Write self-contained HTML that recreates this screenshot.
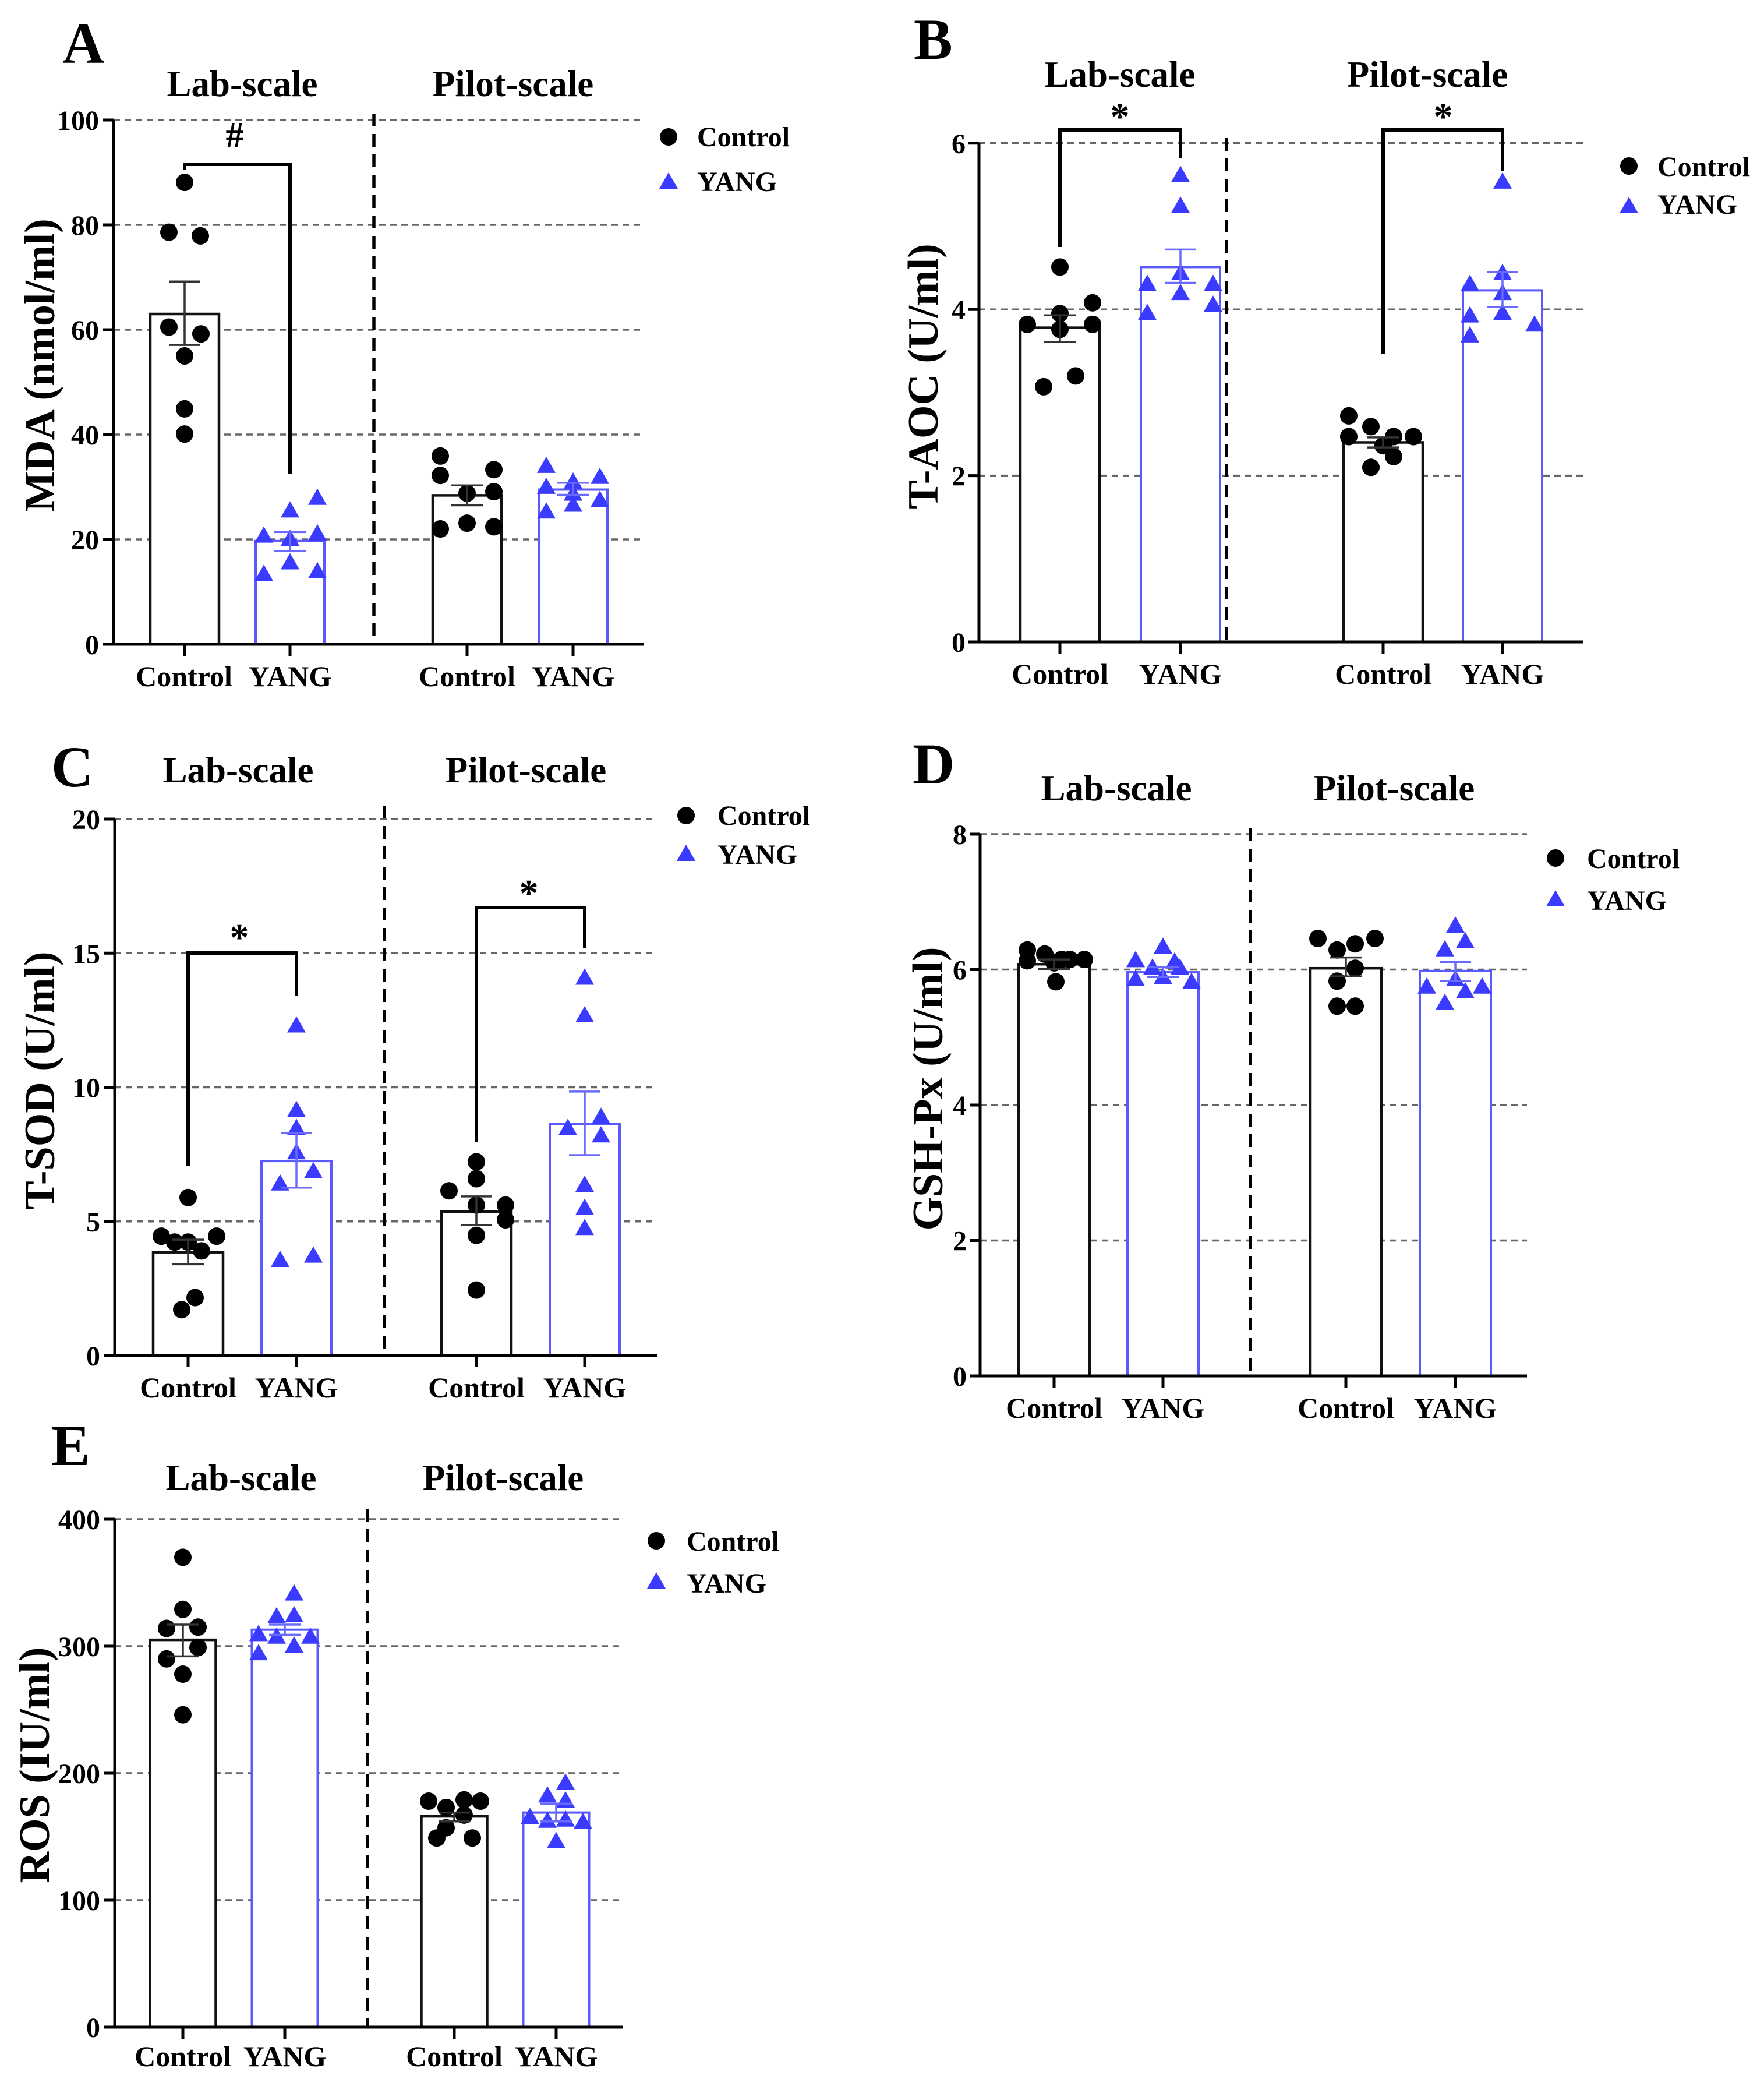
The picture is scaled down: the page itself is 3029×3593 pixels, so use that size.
<!DOCTYPE html>
<html><head><meta charset="utf-8"><style>
html,body{margin:0;padding:0;background:#fff;}
svg{display:block;}
text{font-family:"Liberation Serif","Times New Roman",serif;font-weight:bold;fill:#000;}
.g{stroke:#666;stroke-width:3.5;stroke-dasharray:11 8;fill:none}
.ax{stroke:#000;stroke-width:5;fill:none}
.bk{fill:#fff;stroke:#111;stroke-width:4.5}
.bb{fill:#fff;stroke:#5a5aff;stroke-width:4}
.eb{stroke:#333;stroke-width:3.5;fill:none}
.ebb{stroke:#6a6aff;stroke-width:3.5;fill:none}
.dv{stroke:#000;stroke-width:5.5;stroke-dasharray:22 13;fill:none}
.br{stroke:#000;stroke-width:6;fill:none}
.tl{font-size:48px;text-anchor:end}
.xl{font-size:50px;text-anchor:middle}
.st{font-size:63px;text-anchor:middle}
.yl{font-size:74px;text-anchor:middle}
.pl{font-size:100px}
.lg{font-size:48px}
.sig{font-size:66px;text-anchor:middle}
</style></head><body>
<svg width="3029" height="3593" viewBox="0 0 3029 3593" xmlns="http://www.w3.org/2000/svg">
<defs>
<polygon id="t" points="0,-17 -16,11 16,11" fill="#3b3bff"/>
</defs>
<rect width="3029" height="3593" fill="#fff"/>

<!-- ================= PANEL A ================= -->
<g>
<path class="g" d="M195,926H1106M195,746H1106M195,566H1106M195,386H1106M195,206H1106"/>
<rect class="bk" x="258" y="539" width="118" height="567"/>
<rect class="bb" x="439" y="928.7" width="118" height="177.3"/>
<rect class="bk" x="743" y="850.4" width="118" height="255.6"/>
<rect class="bb" x="925" y="840.5" width="118" height="265.5"/>
<path class="dv" d="M642,195V1106"/>
<path class="br" d="M317,291V282H498V814"/>
<text class="sig" x="403" y="253" style="font-size:62px">#</text>
<g fill="#000">
<circle cx="317" cy="313.1" r="15"/><circle cx="290" cy="398.6" r="15"/><circle cx="344" cy="404.9" r="15"/><circle cx="290" cy="561.5" r="15"/><circle cx="345" cy="573.2" r="15"/><circle cx="317" cy="611" r="15"/><circle cx="317" cy="701.9" r="15"/><circle cx="317" cy="745.1" r="15"/>
<circle cx="756" cy="782.9" r="15"/><circle cx="756" cy="816.2" r="15"/><circle cx="848" cy="806.3" r="15"/><circle cx="802" cy="846.8" r="15"/><circle cx="848" cy="844.1" r="15"/><circle cx="756" cy="908" r="15"/><circle cx="802" cy="898.1" r="15"/><circle cx="848" cy="904.4" r="15"/>
</g>
<use href="#t" x="545" y="855.8"/><use href="#t" x="498" y="877.4"/><use href="#t" x="453" y="920.6"/><use href="#t" x="545" y="917"/><use href="#t" x="498" y="966.5"/><use href="#t" x="453" y="986.3"/><use href="#t" x="545" y="981.8"/><use href="#t" x="498" y="926"/>
<use href="#t" x="938" y="800.9"/><use href="#t" x="938" y="836.9"/><use href="#t" x="984" y="827.9"/><use href="#t" x="1030" y="819.8"/><use href="#t" x="984" y="848.6"/><use href="#t" x="938" y="879.2"/><use href="#t" x="984" y="867.5"/><use href="#t" x="1030" y="859.4"/>
<path class="eb" d="M317,483.2V592.1M290,483.2H344M290,592.1H344"/>
<path class="ebb" d="M498,913.4V945.8M471,913.4H525M471,945.8H525"/>
<path class="eb" d="M802,833.3V867.5M775,833.3H829M775,867.5H829"/>
<path class="ebb" d="M984,828.8V849.5M957,828.8H1011M957,849.5H1011"/>
<path class="ax" d="M195,206V1106H1106M177,1106H195M177,926H195M177,746H195M177,566H195M177,386H195M177,206H195M317,1106V1126M498,1106V1126M802,1106V1126M984,1106V1126"/>
<text class="tl" x="170" y="1123">0</text><text class="tl" x="170" y="943">20</text><text class="tl" x="170" y="763">40</text><text class="tl" x="170" y="583">60</text><text class="tl" x="170" y="403">80</text><text class="tl" x="170" y="223">100</text>
<text class="xl" x="316" y="1178">Control</text><text class="xl" x="498" y="1178">YANG</text><text class="xl" x="802" y="1178">Control</text><text class="xl" x="984" y="1178">YANG</text>
<text class="pl" x="107" y="108">A</text>
<text class="st" x="416" y="165">Lab-scale</text><text class="st" x="881" y="165">Pilot-scale</text>
<text class="yl" transform="translate(93,627) rotate(-90)">MDA (nmol/ml)</text>
<circle cx="1148" cy="235" r="15" fill="#000"/><use href="#t" x="1148" y="313"/>
<text class="lg" x="1197" y="251">Control</text><text class="lg" x="1197" y="328">YANG</text>
</g>

<!-- ================= PANEL B ================= -->
<g>
<path class="g" d="M1681,816.6H2718M1681,531.2H2718M1681,245.8H2718"/>
<rect class="bk" x="1752" y="562.6" width="136" height="539.4"/>
<rect class="bb" x="1959" y="458.4" width="136" height="643.6"/>
<rect class="bk" x="2307" y="759.5" width="136" height="342.5"/>
<rect class="bb" x="2512" y="498.4" width="136" height="603.6"/>
<path class="dv" d="M2106,237V1102"/>
<path class="br" d="M1820,424V223H2027V271M2375,608V223H2580V294"/>
<text class="sig" x="1923" y="222">*</text><text class="sig" x="2478" y="222">*</text>
<g fill="#000">
<circle cx="1820" cy="458.4" r="15"/><circle cx="1876" cy="519.8" r="15"/><circle cx="1820" cy="538.3" r="15"/><circle cx="1764" cy="556.9" r="15"/><circle cx="1876" cy="556.9" r="15"/><circle cx="1847" cy="645.4" r="15"/><circle cx="1792" cy="663.9" r="15"/><circle cx="1820" cy="565.4" r="15"/>
<circle cx="2316" cy="713.9" r="15"/><circle cx="2354" cy="732.4" r="15"/><circle cx="2316" cy="749.5" r="15"/><circle cx="2427" cy="749.5" r="15"/><circle cx="2393" cy="749.5" r="15"/><circle cx="2375" cy="765.2" r="15"/><circle cx="2354" cy="802.3" r="15"/><circle cx="2393" cy="783.8" r="15"/>
</g>
<use href="#t" x="2027" y="301.5"/><use href="#t" x="2027" y="354.3"/><use href="#t" x="2027" y="469.8"/><use href="#t" x="1970" y="488.4"/><use href="#t" x="2083" y="488.4"/><use href="#t" x="2027" y="504.1"/><use href="#t" x="1970" y="538.3"/><use href="#t" x="2083" y="524.1"/>
<use href="#t" x="2580" y="312.9"/><use href="#t" x="2524" y="488.4"/><use href="#t" x="2580" y="469.8"/><use href="#t" x="2580" y="504.1"/><use href="#t" x="2524" y="542.6"/><use href="#t" x="2580" y="538.3"/><use href="#t" x="2524" y="576.9"/><use href="#t" x="2635" y="558.3"/>
<path class="eb" d="M1820,541.2V586.9M1793,541.2H1847M1793,586.9H1847"/>
<path class="ebb" d="M2027,428.4V485.5M2000,428.4H2054M2000,485.5H2054"/>
<path class="eb" d="M2375,750.9V768.1M2348,750.9H2402M2348,768.1H2402"/>
<path class="ebb" d="M2580,467V527M2553,467H2607M2553,527H2607"/>
<path class="ax" d="M1681,245.8V1102H2718M1663,1102H1681M1663,816.6H1681M1663,531.2H1681M1663,245.8H1681M1820,1102V1122M2027,1102V1122M2375,1102V1122M2580,1102V1122"/>
<text class="tl" x="1658" y="1119">0</text><text class="tl" x="1658" y="833.6">2</text><text class="tl" x="1658" y="548.2">4</text><text class="tl" x="1658" y="262.8">6</text>
<text class="xl" x="1820" y="1174">Control</text><text class="xl" x="2027" y="1174">YANG</text><text class="xl" x="2375" y="1174">Control</text><text class="xl" x="2580" y="1174">YANG</text>
<text class="pl" x="1569" y="101">B</text>
<text class="st" x="1923" y="149">Lab-scale</text><text class="st" x="2451" y="149">Pilot-scale</text>
<text class="yl" transform="translate(1610,646) rotate(-90)">T-AOC (U/ml)</text>
<circle cx="2797" cy="285" r="15" fill="#000"/><use href="#t" x="2797" y="355"/>
<text class="lg" x="2846" y="302">Control</text><text class="lg" x="2846" y="367">YANG</text>
</g>

<!-- ================= PANEL C ================= -->
<g>
<path class="g" d="M197,2096.75H1129M197,1866.5H1129M197,1636.25H1129M197,1406H1129"/>
<rect class="bk" x="263" y="2149.7" width="120" height="177.3"/>
<rect class="bb" x="449" y="1993.1" width="120" height="333.9"/>
<rect class="bk" x="758" y="2080.2" width="120" height="246.8"/>
<rect class="bb" x="944" y="1929.6" width="120" height="397.4"/>
<path class="dv" d="M660,1383V2327"/>
<path class="br" d="M323,2002V1636H509V1710M818,1960V1558H1004V1627"/>
<text class="sig" x="411" y="1631">*</text><text class="sig" x="908" y="1555">*</text>
<g fill="#000">
<circle cx="323" cy="2055.8" r="15"/><circle cx="277" cy="2122.1" r="15"/><circle cx="372" cy="2122.1" r="15"/><circle cx="300" cy="2132.2" r="15"/><circle cx="323" cy="2132.2" r="15"/><circle cx="346" cy="2147.4" r="15"/><circle cx="335" cy="2227.5" r="15"/><circle cx="312" cy="2248.3" r="15"/>
<circle cx="818" cy="1994.5" r="15"/><circle cx="818" cy="2023.5" r="15"/><circle cx="771" cy="2044.3" r="15"/><circle cx="818" cy="2068.7" r="15"/><circle cx="868" cy="2068.7" r="15"/><circle cx="868" cy="2094" r="15"/><circle cx="818" cy="2120.7" r="15"/><circle cx="818" cy="2214.6" r="15"/>
</g>
<use href="#t" x="509" y="1761.5"/><use href="#t" x="509" y="1906.6"/><use href="#t" x="509" y="1937.4"/><use href="#t" x="509" y="1979.3"/><use href="#t" x="538" y="2011.6"/><use href="#t" x="481" y="2032.7"/><use href="#t" x="481" y="2164"/><use href="#t" x="538" y="2156.6"/>
<use href="#t" x="1004" y="1679.5"/><use href="#t" x="1004" y="1744"/><use href="#t" x="975" y="1937.4"/><use href="#t" x="1032" y="1918.1"/><use href="#t" x="1032" y="1950.3"/><use href="#t" x="1004" y="2035"/><use href="#t" x="1004" y="2074.6"/><use href="#t" x="1004" y="2109.2"/>
<path class="eb" d="M323,2128.1V2170.4M296,2128.1H350M296,2170.4H350"/>
<path class="ebb" d="M509,1944.8V2038.7M482,1944.8H536M482,2038.7H536"/>
<path class="eb" d="M818,2053.9V2103.2M791,2053.9H845M791,2103.2H845"/>
<path class="ebb" d="M1004,1873.9V1983M977,1873.9H1031M977,1983H1031"/>
<path class="ax" d="M197,1406V2327H1129M179,2327H197M179,2096.75H197M179,1866.5H197M179,1636.25H197M179,1406H197M323,2327V2347M509,2327V2347M818,2327V2347M1004,2327V2347"/>
<text class="tl" x="172" y="2344">0</text><text class="tl" x="172" y="2113.75">5</text><text class="tl" x="172" y="1883.5">10</text><text class="tl" x="172" y="1653.25">15</text><text class="tl" x="172" y="1423">20</text>
<text class="xl" x="323" y="2399">Control</text><text class="xl" x="509" y="2399">YANG</text><text class="xl" x="818" y="2399">Control</text><text class="xl" x="1004" y="2399">YANG</text>
<text class="pl" x="88" y="1350">C</text>
<text class="st" x="409" y="1343">Lab-scale</text><text class="st" x="903" y="1343">Pilot-scale</text>
<text class="yl" transform="translate(93,1855) rotate(-90)">T-SOD (U/ml)</text>
<circle cx="1178" cy="1400" r="15" fill="#000"/><use href="#t" x="1178" y="1467"/>
<text class="lg" x="1232" y="1416">Control</text><text class="lg" x="1232" y="1483">YANG</text>
</g>

<!-- ================= PANEL D ================= -->
<g>
<path class="g" d="M1683,2129.5H2622M1683,1897H2622M1683,1664.5H2622M1683,1432H2622"/>
<rect class="bk" x="1749" y="1655.2" width="122" height="706.8"/>
<rect class="bb" x="1936" y="1669.1" width="122" height="692.9"/>
<rect class="bk" x="2250" y="1662.2" width="122" height="699.8"/>
<rect class="bb" x="2438" y="1666.8" width="122" height="695.2"/>
<path class="dv" d="M2147,1422V2362"/>
<g fill="#000">
<circle cx="1764" cy="1630.8" r="15"/><circle cx="1794" cy="1637.8" r="15"/><circle cx="1823" cy="1647.1" r="15"/><circle cx="1764" cy="1649.4" r="15"/><circle cx="1837" cy="1647.1" r="15"/><circle cx="1862" cy="1647.1" r="15"/><circle cx="1813" cy="1685.4" r="15"/><circle cx="1810" cy="1652.9" r="15"/>
<circle cx="2263" cy="1611" r="15"/><circle cx="2361" cy="1611" r="15"/><circle cx="2327" cy="1620.3" r="15"/><circle cx="2296" cy="1630.8" r="15"/><circle cx="2327" cy="1662.2" r="15"/><circle cx="2296" cy="1684.3" r="15"/><circle cx="2296" cy="1727.3" r="15"/><circle cx="2327" cy="1727.3" r="15"/>
</g>
<use href="#t" x="1997" y="1626.1"/><use href="#t" x="1950" y="1649.4"/><use href="#t" x="1979" y="1662.2"/><use href="#t" x="2026" y="1662.2"/><use href="#t" x="1950" y="1681.9"/><use href="#t" x="1997" y="1678.4"/><use href="#t" x="2046" y="1686.6"/><use href="#t" x="2017" y="1651.7"/>
<use href="#t" x="2499" y="1590.1"/><use href="#t" x="2516" y="1616.8"/><use href="#t" x="2481" y="1630.8"/><use href="#t" x="2450" y="1694.7"/><use href="#t" x="2545" y="1694.7"/><use href="#t" x="2516" y="1702.9"/><use href="#t" x="2481" y="1722.6"/><use href="#t" x="2499" y="1681.9"/>
<path class="eb" d="M1810,1647.1V1663.3M1783,1647.1H1837M1783,1663.3H1837"/>
<path class="ebb" d="M1997,1659.9V1677.3M1970,1659.9H2024M1970,1677.3H2024"/>
<path class="eb" d="M2311,1643.6V1676.1M2284,1643.6H2338M2284,1676.1H2338"/>
<path class="ebb" d="M2499,1651.7V1684.3M2472,1651.7H2526M2472,1684.3H2526"/>
<path class="ax" d="M1683,1432V2362H2622M1665,2362H1683M1665,2129.5H1683M1665,1897H1683M1665,1664.5H1683M1665,1432H1683M1810,2362V2382M1997,2362V2382M2311,2362V2382M2499,2362V2382"/>
<text class="tl" x="1660" y="2379">0</text><text class="tl" x="1660" y="2146.5">2</text><text class="tl" x="1660" y="1914">4</text><text class="tl" x="1660" y="1681.5">6</text><text class="tl" x="1660" y="1449">8</text>
<text class="xl" x="1810" y="2434">Control</text><text class="xl" x="1997" y="2434">YANG</text><text class="xl" x="2311" y="2434">Control</text><text class="xl" x="2499" y="2434">YANG</text>
<text class="pl" x="1567" y="1345">D</text>
<text class="st" x="1917" y="1374">Lab-scale</text><text class="st" x="2394" y="1374">Pilot-scale</text>
<text class="yl" transform="translate(1618,1869) rotate(-90)">GSH-Px (U/ml)</text>
<circle cx="2671" cy="1473" r="15" fill="#000"/><use href="#t" x="2671" y="1545"/>
<text class="lg" x="2725" y="1490">Control</text><text class="lg" x="2725" y="1562">YANG</text>
</g>

<!-- ================= PANEL E ================= -->
<g>
<path class="g" d="M197,3262H1070M197,3044H1070M197,2826H1070M197,2608H1070"/>
<rect class="bk" x="257.5" y="2815.1" width="113" height="664.9"/>
<rect class="bb" x="432.5" y="2797.7" width="113" height="682.3"/>
<rect class="bk" x="723.5" y="3118.1" width="113" height="361.9"/>
<rect class="bb" x="898.5" y="3111.6" width="113" height="368.4"/>
<path class="dv" d="M631,2590V3480"/>
<g fill="#000">
<circle cx="314" cy="2673.4" r="15"/><circle cx="314" cy="2762.8" r="15"/><circle cx="286" cy="2795.5" r="15"/><circle cx="340" cy="2793.3" r="15"/><circle cx="340" cy="2828.2" r="15"/><circle cx="286" cy="2847.8" r="15"/><circle cx="314" cy="2874" r="15"/><circle cx="314" cy="2943.7" r="15"/>
<circle cx="736" cy="3092" r="15"/><circle cx="766" cy="3102.9" r="15"/><circle cx="797" cy="3089.8" r="15"/><circle cx="825" cy="3092" r="15"/><circle cx="797" cy="3115.9" r="15"/><circle cx="766" cy="3137.7" r="15"/><circle cx="750" cy="3155.2" r="15"/><circle cx="811" cy="3155.2" r="15"/>
</g>
<use href="#t" x="505" y="2736.6"/><use href="#t" x="475" y="2775.9"/><use href="#t" x="505" y="2773.7"/><use href="#t" x="444" y="2806.4"/><use href="#t" x="475" y="2810.7"/><use href="#t" x="533" y="2810.7"/><use href="#t" x="505" y="2826"/><use href="#t" x="444" y="2839.1"/>
<use href="#t" x="971" y="3061.4"/><use href="#t" x="940" y="3083.2"/><use href="#t" x="971" y="3092"/><use href="#t" x="910" y="3120.3"/><use href="#t" x="940" y="3126.8"/><use href="#t" x="971" y="3124.7"/><use href="#t" x="1001" y="3129"/><use href="#t" x="955" y="3161.7"/>
<path class="eb" d="M314,2789V2843.4M287,2789H341M287,2843.4H341"/>
<path class="ebb" d="M489,2789V2806.4M462,2789H516M462,2806.4H516"/>
<path class="eb" d="M780,3111.6V3126.8M753,3111.6H807M753,3126.8H807"/>
<path class="ebb" d="M955,3096.3V3126.8M928,3096.3H982M928,3126.8H982"/>
<path class="ax" d="M197,2608V3480H1070M179,3480H197M179,3262H197M179,3044H197M179,2826H197M179,2608H197M314,3480V3500M489,3480V3500M780,3480V3500M955,3480V3500"/>
<text class="tl" x="172" y="3497">0</text><text class="tl" x="172" y="3279">100</text><text class="tl" x="172" y="3061">200</text><text class="tl" x="172" y="2843">300</text><text class="tl" x="172" y="2625">400</text>
<text class="xl" x="314" y="3547">Control</text><text class="xl" x="489" y="3547">YANG</text><text class="xl" x="780" y="3547">Control</text><text class="xl" x="955" y="3547">YANG</text>
<text class="pl" x="88" y="2515">E</text>
<text class="st" x="414" y="2558">Lab-scale</text><text class="st" x="864" y="2558">Pilot-scale</text>
<text class="yl" transform="translate(84,3030) rotate(-90)">ROS (IU/ml)</text>
<circle cx="1127" cy="2645" r="15" fill="#000"/><use href="#t" x="1127" y="2716"/>
<text class="lg" x="1179" y="2662">Control</text><text class="lg" x="1179" y="2734">YANG</text>
</g>
</svg>
</body></html>
